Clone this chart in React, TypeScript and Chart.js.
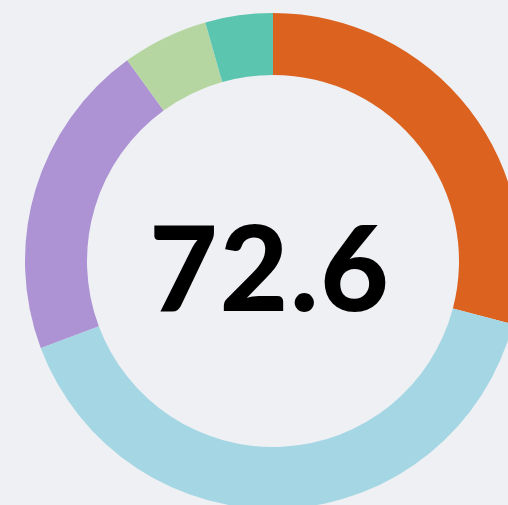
import React, { useEffect, useRef } from "react";
import { Chart, registerables } from "chart.js";

Chart.register(...registerables);

const labels = ["A", "B", "C", "D", "E"];
const values = [29.1, 40.2, 20.7, 5.6, 4.4];
const colors = ["#dc6220", "#a4d7e3", "#ad93d3", "#b5d6a0", "#5bc5b0"];
const centerLabel = "72.6";

export default function App() {
  const ref = useRef<HTMLCanvasElement | null>(null);

  useEffect(() => {
    document.body.style.margin = "0";
    const ctx = ref.current!;
    const chart = new Chart(ctx, {
      type: "doughnut",
      data: {
        labels,
        datasets: [
          {
            data: values,
            backgroundColor: colors,
            borderWidth: 0,
          },
        ],
      },
      options: {
        responsive: false,
        animation: false,
        cutout: "75%",
        layout: { padding: 0 },
        plugins: {
          legend: { display: false },
          tooltip: { enabled: false },
        },
      },
    });
    return () => chart.destroy();
  }, []);

  return (
    <div
      style={{
        position: "fixed",
        left: 0,
        top: 0,
        width: 508,
        height: 505,
        overflow: "hidden",
        background: "#eef0f4",
      }}
    >
      <canvas
        ref={ref}
        width={496}
        height={496}
        style={{ position: "absolute", left: 25, top: 13, width: 496, height: 496 }}
      />
      <div
        style={{
          position: "absolute",
          left: 25,
          top: 13,
          width: 496,
          height: 496,
          boxSizing: "border-box",
          paddingTop: 8,
          paddingRight: 6,
          display: "flex",
          alignItems: "center",
          justifyContent: "center",
          fontFamily: "Lato, sans-serif",
          fontWeight: 900,
          fontSize: 118,
          color: "#000",
          letterSpacing: "2px",
        }}
      >
        {centerLabel}
      </div>
    </div>
  );
}
